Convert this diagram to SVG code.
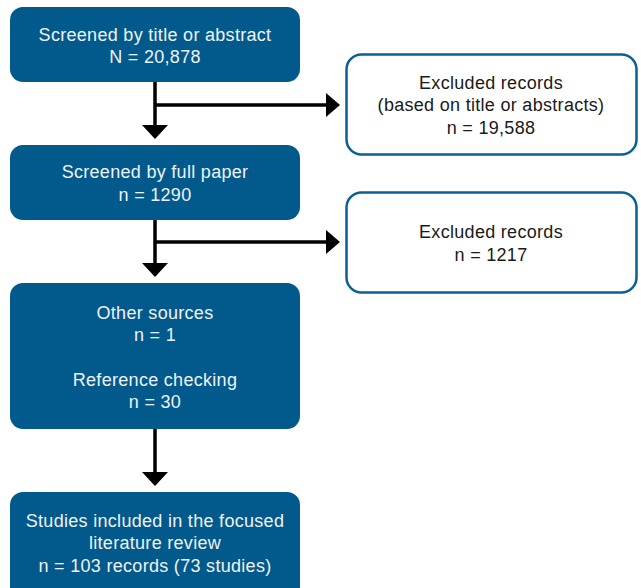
<svg xmlns="http://www.w3.org/2000/svg" width="641" height="588" viewBox="0 0 641 588">
<style>
.blue{fill:#02598c;}
.out{fill:#ffffff;stroke:#0b5f92;stroke-width:2.5;}
.wt{font-family:"Liberation Sans",Arial,sans-serif;font-size:18px;letter-spacing:0.3px;fill:#eef3f7;text-anchor:middle;}
.dt{font-family:"Liberation Sans",Arial,sans-serif;font-size:18px;letter-spacing:0.3px;fill:#1a1a1a;text-anchor:middle;}
.ln{stroke:#000;stroke-width:3.5;fill:none;}
.ah{fill:#000;}
</style>
<rect width="641" height="588" fill="#ffffff"/>
<g id="connectors">
<line class="ln" x1="155" y1="82" x2="155" y2="127"/>
<polygon class="ah" points="142,125 168,125 155,139"/>
<line class="ln" x1="155" y1="105" x2="328" y2="105"/>
<polygon class="ah" points="326,93 326,117 340,105"/>
<line class="ln" x1="155" y1="220" x2="155" y2="265"/>
<polygon class="ah" points="142,263 168,263 155,277"/>
<line class="ln" x1="155" y1="242" x2="328" y2="242"/>
<polygon class="ah" points="326,230 326,254 340,242"/>
<line class="ln" x1="155" y1="429" x2="155" y2="474"/>
<polygon class="ah" points="142,472 168,472 155,486"/>
</g>
<g id="screened-title">
<rect class="blue" x="10" y="7" width="290" height="75" rx="13"/>
<text class="wt" x="155" y="41">Screened by title or abstract</text>
<text class="wt" x="155" y="63">N = 20,878</text>
</g>
<g id="excluded-1">
<rect class="out" x="346.5" y="54.5" width="290" height="100" rx="15"/>
<text class="dt" x="491" y="89">Excluded records</text>
<text class="dt" x="491" y="111">(based on title or abstracts)</text>
<text class="dt" x="491" y="134">n = 19,588</text>
</g>
<g id="screened-full">
<rect class="blue" x="10" y="145" width="290" height="75" rx="13"/>
<text class="wt" x="155" y="178">Screened by full paper</text>
<text class="wt" x="155" y="201">n = 1290</text>
</g>
<g id="excluded-2">
<rect class="out" x="346.5" y="192.5" width="290" height="100" rx="15"/>
<text class="dt" x="491" y="238">Excluded records</text>
<text class="dt" x="491" y="261">n = 1217</text>
</g>
<g id="other-sources">
<rect class="blue" x="10" y="283" width="290" height="146" rx="13"/>
<text class="wt" x="155" y="319">Other sources</text>
<text class="wt" x="155" y="341">n = 1</text>
<text class="wt" x="155" y="386">Reference checking</text>
<text class="wt" x="155" y="408">n = 30</text>
</g>
<g id="included">
<rect class="blue" x="10" y="492" width="290" height="110" rx="13"/>
<text class="wt" x="155" y="527">Studies included in the focused</text>
<text class="wt" x="155" y="549">literature review</text>
<text class="wt" x="155" y="572">n = 103 records (73 studies)</text>
</g>
</svg>
